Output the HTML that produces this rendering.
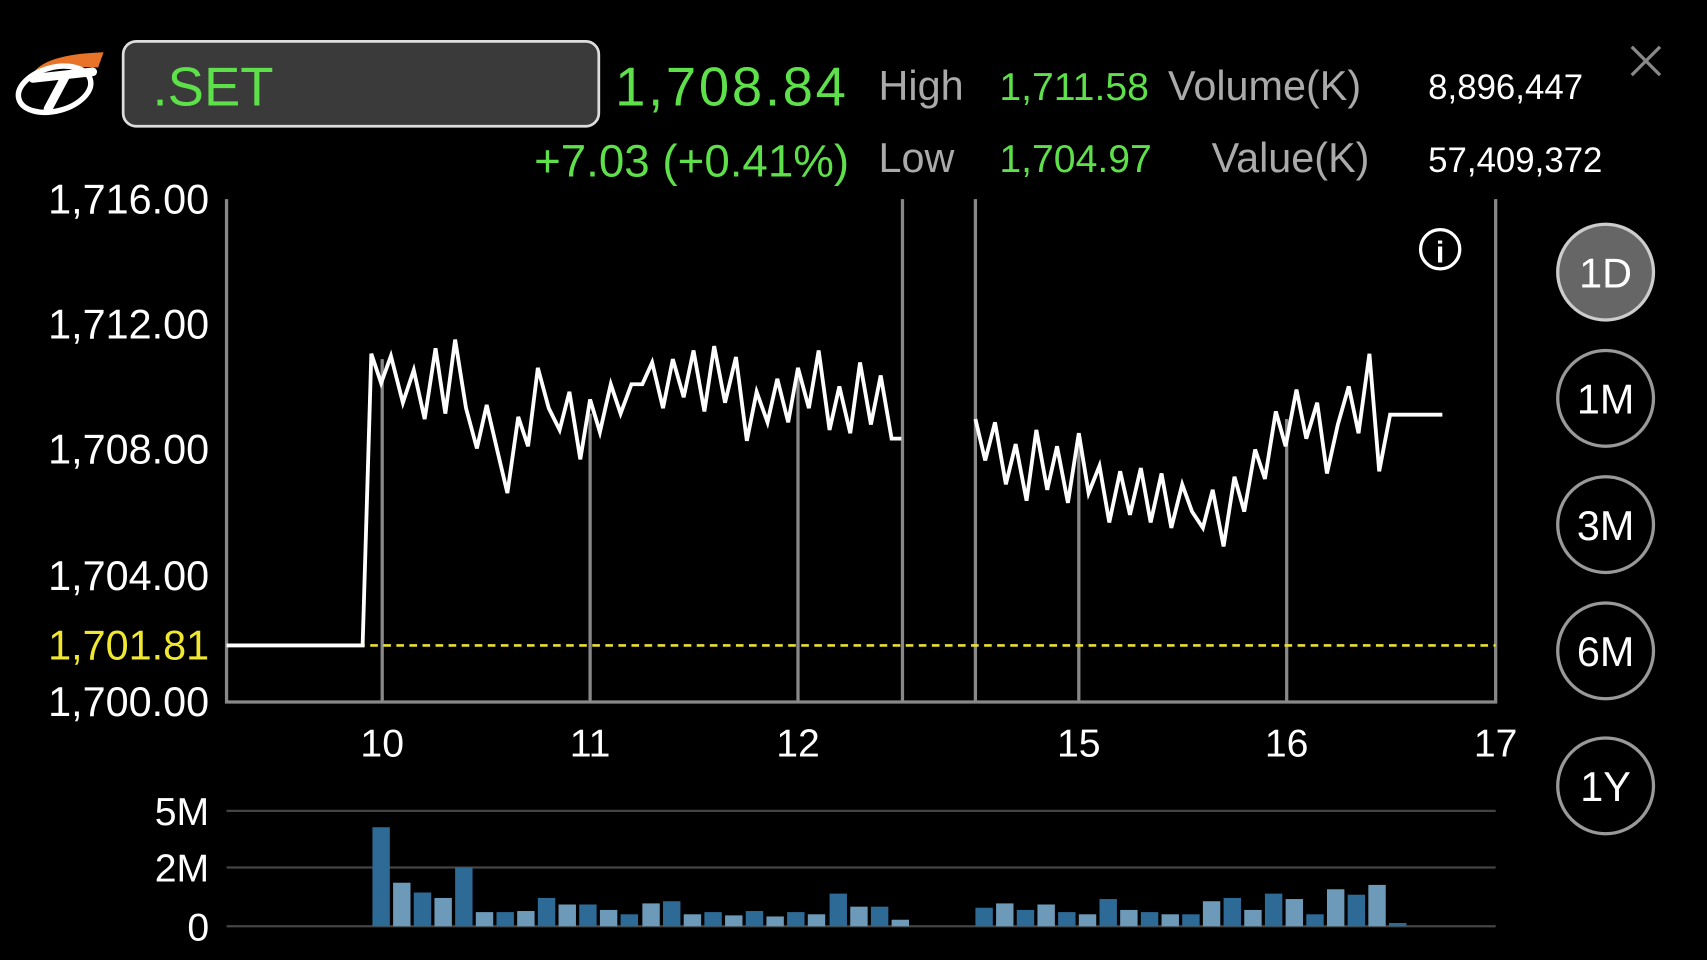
<!DOCTYPE html>
<html><head><meta charset="utf-8"><style>
html,body{margin:0;padding:0;background:#000;width:1707px;height:960px;overflow:hidden}
svg{display:block}
text{font-family:"Liberation Sans",sans-serif}
</style></head><body>
<svg width="1707" height="960" viewBox="0 0 1568 882" xmlns="http://www.w3.org/2000/svg">
<rect width="1568" height="882" fill="#000"/>
<path d="M30 68 Q40 50 95 48 L90 62 Q55 60 30 68Z" fill="#e8742a"/>
<ellipse cx="50" cy="82" rx="34" ry="20" fill="none" stroke="#fff" stroke-width="5" transform="rotate(-15 50 82)"/>
<path d="M30 72 L85 66 M60 70 L44 100" stroke="#fff" stroke-width="8" stroke-linecap="round"/>
<rect x="113" y="38" width="437" height="78" rx="12" fill="#3a3a3a" stroke="#ddd" stroke-width="2.5"/>
<text x="140" y="97" font-size="50" fill="#5ee04a">.SET</text>
<text x="565" y="97" font-size="50" fill="#5ee04a" textLength="212">1,708.84</text>
<text x="807" y="92" font-size="38" fill="#aaa">High</text>
<text x="918" y="92" font-size="36" fill="#5ee04a">1,711.58</text>
<text x="1073" y="92" font-size="38" fill="#aaa">Volume(K)</text>
<text x="1312" y="91" font-size="32" fill="#fff">8,896,447</text>
<text x="780" y="162" font-size="42" fill="#5ee04a" text-anchor="end">+7.03 (+0.41%)</text>
<text x="807" y="158" font-size="38" fill="#aaa">Low</text>
<text x="918" y="158" font-size="36" fill="#5ee04a">1,704.97</text>
<text x="1113" y="158" font-size="38" fill="#aaa">Value(K)</text>
<text x="1312" y="158" font-size="32" fill="#fff">57,409,372</text>
<path d="M1499 43 L1525 69 M1525 43 L1499 69" stroke="#888" stroke-width="3"/>
<g font-size="38" fill="#fff" text-anchor="end">
<text x="192" y="196">1,716.00</text>
<text x="192" y="311">1,712.00</text>
<text x="192" y="426">1,708.00</text>
<text x="192" y="542">1,704.00</text>
<text x="192" y="606" fill="#f0e830">1,701.81</text>
<text x="192" y="658">1,700.00</text>
</g>
<g stroke="#888" stroke-width="3" fill="none">
<path d="M208 183 V645 H1374 V183"/>
<path d="M829 183 V645 M896 183 V645"/>
<path d="M351 330 V645 M542 380 V645 M733 345 V645 M991 400 V645 M1182 385 V645"/>
</g>
<g font-size="36" fill="#fff" text-anchor="middle">
<text x="351" y="695">10</text><text x="542" y="695">11</text><text x="733" y="695">12</text>
<text x="991" y="695">15</text><text x="1182" y="695">16</text><text x="1374" y="695">17</text>
</g>
<line x1="208" y1="593" x2="1374" y2="593" stroke="#e8e030" stroke-width="2.5" stroke-dasharray="7 5"/>
<g fill="none" stroke="#fff" stroke-width="3.5">
<polyline points="208,593 333,593 341,325 350,352 359,327 370,370 380,340 390,385 400,320 409,380 418,312 428,375 438,412 447,372 457,415 466,453 476,383 485,410 494,338 504,375 514,395 523,360 533,422 542,367 551,397 561,353 570,380 580,353 590,353 599,333 609,375 618,330 628,365 637,322 647,378 656,318 666,370 676,328 686,405 695,360 705,388 714,348 724,388 733,338 743,375 752,322 762,395 771,355 781,398 790,333 800,390 809,345 819,403 828,403"/>
<polyline points="896,385 905,423 914,388 924,445 933,408 943,460 952,395 962,450 971,410 981,462 991,398 1000,453 1010,428 1019,480 1029,433 1038,473 1048,430 1057,480 1067,435 1076,485 1086,445 1095,470 1105,485 1114,450 1124,502 1134,438 1143,470 1153,413 1162,440 1172,378 1181,410 1191,358 1200,403 1210,370 1219,435 1229,390 1239,355 1248,398 1258,325 1267,433 1277,381 1325,381"/>
</g>
<circle cx="1323" cy="229" r="18" fill="none" stroke="#fff" stroke-width="3"/>
<text x="1323" y="241" font-size="28" font-weight="bold" fill="#fff" text-anchor="middle" font-family="Liberation Serif">i</text>
<g stroke="#999" stroke-width="3">
<circle cx="1475" cy="250" r="44" fill="#666" stroke="#ccc"/>
<circle cx="1475" cy="366" r="44" fill="none"/>
<circle cx="1475" cy="482" r="44" fill="none"/>
<circle cx="1475" cy="598" r="44" fill="none"/>
<circle cx="1475" cy="722" r="44" fill="none"/>
</g>
<g font-size="38" fill="#fff" text-anchor="middle">
<text x="1475" y="264">1D</text><text x="1475" y="380">1M</text><text x="1475" y="496">3M</text><text x="1475" y="612">6M</text><text x="1475" y="736">1Y</text>
</g>
<g stroke="#444" stroke-width="2"><path d="M208 745 H1374 M208 797 H1374 M208 851 H1374"/></g>
<g font-size="36" fill="#fff" text-anchor="end">
<text x="192" y="758">5M</text><text x="192" y="810">2M</text><text x="192" y="864">0</text>
</g>
<g>
<rect x="342" y="760" width="16" height="91" fill="#2e6a96"/>
<rect x="361" y="811" width="16" height="40" fill="#6d9ab8"/>
<rect x="380" y="820" width="16" height="31" fill="#2e6a96"/>
<rect x="399" y="825" width="16" height="26" fill="#6d9ab8"/>
<rect x="418" y="797" width="16" height="54" fill="#2e6a96"/>
<rect x="437" y="838" width="16" height="13" fill="#6d9ab8"/>
<rect x="456" y="838" width="16" height="13" fill="#2e6a96"/>
<rect x="475" y="837" width="16" height="14" fill="#6d9ab8"/>
<rect x="494" y="825" width="16" height="26" fill="#2e6a96"/>
<rect x="513" y="831" width="16" height="20" fill="#6d9ab8"/>
<rect x="532" y="831" width="16" height="20" fill="#2e6a96"/>
<rect x="551" y="836" width="16" height="15" fill="#6d9ab8"/>
<rect x="570" y="840" width="16" height="11" fill="#2e6a96"/>
<rect x="590" y="830" width="16" height="21" fill="#6d9ab8"/>
<rect x="609" y="828" width="16" height="23" fill="#2e6a96"/>
<rect x="628" y="840" width="16" height="11" fill="#6d9ab8"/>
<rect x="647" y="838" width="16" height="13" fill="#2e6a96"/>
<rect x="666" y="841" width="16" height="10" fill="#6d9ab8"/>
<rect x="685" y="837" width="16" height="14" fill="#2e6a96"/>
<rect x="704" y="842" width="16" height="9" fill="#6d9ab8"/>
<rect x="723" y="838" width="16" height="13" fill="#2e6a96"/>
<rect x="742" y="840" width="16" height="11" fill="#6d9ab8"/>
<rect x="762" y="821" width="16" height="30" fill="#2e6a96"/>
<rect x="781" y="833" width="16" height="18" fill="#6d9ab8"/>
<rect x="800" y="833" width="16" height="18" fill="#2e6a96"/>
<rect x="819" y="845" width="16" height="6" fill="#6d9ab8"/>
<rect x="896" y="834" width="16" height="17" fill="#2e6a96"/>
<rect x="915" y="830" width="16" height="21" fill="#6d9ab8"/>
<rect x="934" y="836" width="16" height="15" fill="#2e6a96"/>
<rect x="953" y="831" width="16" height="20" fill="#6d9ab8"/>
<rect x="972" y="838" width="16" height="13" fill="#2e6a96"/>
<rect x="991" y="840" width="16" height="11" fill="#6d9ab8"/>
<rect x="1010" y="826" width="16" height="25" fill="#2e6a96"/>
<rect x="1029" y="836" width="16" height="15" fill="#6d9ab8"/>
<rect x="1048" y="838" width="16" height="13" fill="#2e6a96"/>
<rect x="1067" y="840" width="16" height="11" fill="#6d9ab8"/>
<rect x="1086" y="840" width="16" height="11" fill="#2e6a96"/>
<rect x="1105" y="828" width="16" height="23" fill="#6d9ab8"/>
<rect x="1124" y="825" width="16" height="26" fill="#2e6a96"/>
<rect x="1143" y="836" width="16" height="15" fill="#6d9ab8"/>
<rect x="1162" y="821" width="16" height="30" fill="#2e6a96"/>
<rect x="1181" y="826" width="16" height="25" fill="#6d9ab8"/>
<rect x="1200" y="840" width="16" height="11" fill="#2e6a96"/>
<rect x="1219" y="817" width="16" height="34" fill="#6d9ab8"/>
<rect x="1238" y="822" width="16" height="29" fill="#2e6a96"/>
<rect x="1257" y="813" width="16" height="38" fill="#6d9ab8"/>
<rect x="1276" y="848" width="16" height="3" fill="#2e6a96"/>
</g>
</svg>
</body></html>
